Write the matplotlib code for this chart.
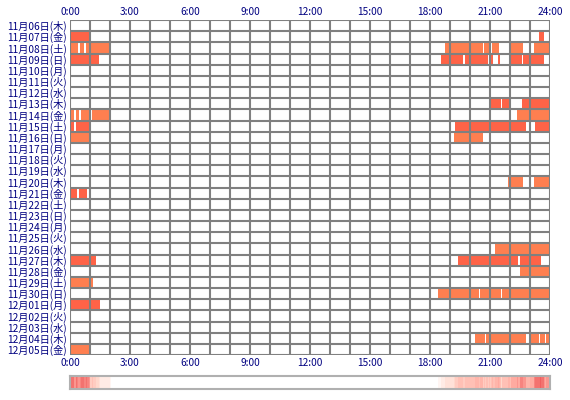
import numpy as np
import matplotlib
matplotlib.use('Agg')
import matplotlib.pyplot as plt
from matplotlib.colors import LinearSegmentedColormap

plt.rcParams['font.family'] = ['Noto Sans CJK JP', 'DejaVu Sans']

days = ['11月06日(木)', '11月07日(金)', '11月08日(土)', '11月09日(日)', '11月10日(月)',
        '11月11日(火)', '11月12日(水)', '11月13日(木)', '11月14日(金)', '11月15日(土)',
        '11月16日(日)', '11月17日(月)', '11月18日(火)', '11月19日(水)', '11月20日(木)',
        '11月21日(金)', '11月22日(土)', '11月23日(日)', '11月24日(月)', '11月25日(火)',
        '11月26日(水)', '11月27日(木)', '11月28日(金)', '11月29日(土)', '11月30日(日)',
        '12月01日(月)', '12月02日(火)', '12月03日(水)', '12月04日(木)', '12月05日(金)']
tick_labels = ['0:00', '3:00', '6:00', '9:00', '12:00', '15:00', '18:00', '21:00', '24:00']

T, C = '#ff6347', '#ff7f50'
# (row, start hour, end hour, colour)
segments = [
    (1, 0.0, 1.0, T), (1, 23.45, 23.7, T),
    (2, 0.0, 0.4, C), (2, 0.5, 0.7, C), (2, 0.8, 2.0, C),
    (2, 18.75, 20.65, C), (2, 20.7, 21.0, C), (2, 21.1, 21.45, C), (2, 22.05, 22.65, C), (2, 23.2, 24.0, C),
    (3, 0.0, 1.45, T), (3, 18.55, 19.65, T), (3, 19.75, 20.9, T), (3, 20.95, 21.15, T),
    (3, 21.4, 21.5, T), (3, 22.05, 22.6, T), (3, 22.65, 23.7, T),
    (7, 21.05, 21.55, T), (7, 21.6, 22.0, T), (7, 22.6, 24.0, T),
    (8, 0.0, 0.2, C), (8, 0.3, 0.45, C), (8, 0.55, 1.0, C), (8, 1.1, 2.05, C), (8, 22.35, 24.0, C),
    (9, 0.0, 0.2, T), (9, 0.3, 1.0, T), (9, 19.25, 22.8, T), (9, 23.25, 24.0, T),
    (10, 0.0, 1.0, C), (10, 19.2, 20.65, C),
    (14, 21.9, 22.65, C), (14, 23.2, 24.0, C),
    (15, 0.0, 0.35, T), (15, 0.45, 0.85, T),
    (20, 21.25, 24.0, C),
    (21, 0.0, 1.3, T), (21, 19.4, 22.4, T), (21, 22.5, 23.55, T),
    (22, 22.5, 24.0, C),
    (23, 0.0, 1.15, C),
    (24, 18.4, 20.45, C), (24, 20.5, 21.55, C), (24, 21.6, 24.0, C),
    (25, 0.0, 1.5, T),
    (28, 20.25, 20.75, C), (28, 20.8, 22.8, C), (28, 23.0, 23.45, C), (28, 23.5, 23.75, C), (28, 23.8, 24.0, C),
    (29, 0.0, 0.95, C),
]

fig = plt.figure(figsize=(5.7, 4.0), dpi=100)
ax = fig.add_axes([70/570, 1-355/400, 480/570, 335/400])
n = len(days)
for r, s, e, col in segments:
    ax.barh(r, e - s, left=s, height=1.0, color=col, zorder=1)
ax.set_xlim(0, 24)
ax.set_ylim(n - 0.5, -0.5)
for h in range(25):
    ax.axvline(h, color='#808080', lw=1.5, zorder=2)
for i in range(n + 1):
    ax.axhline(i - 0.5, color='#808080', lw=1.5, zorder=2)
for sp in ax.spines.values():
    sp.set_visible(False)
ax.set_yticks(range(n))
ax.set_yticklabels(days, fontsize=7.3, color='#000080')
ax.set_xticks(range(0, 25, 3))
ax.set_xticklabels(tick_labels, fontsize=7.3, color='#000080')
ax.tick_params(length=0, pad=2, top=True, labeltop=True)

# activity density strip
mins = np.arange(0, 24, 1/60)
dens = np.zeros_like(mins)
for r, s, e, col in segments:
    dens += (mins >= s) & (mins < e)
cmap = LinearSegmentedColormap.from_list('act', ['#ffffff', '#ffd8cc', '#ffaaa0', '#f06060'])
ax2 = fig.add_axes([70/570, 1-389/400, 480/570, 13/400])
ax2.imshow(dens[None, :], aspect='auto', cmap=cmap, vmin=0, vmax=dens.max(),
           extent=[0, 24, 0, 1], interpolation='nearest')
ax2.set_xticks([]); ax2.set_yticks([])
for sp in ax2.spines.values():
    sp.set_color('#b0b0b0'); sp.set_linewidth(1.5)

fig.savefig('out.png', dpi=100, facecolor='white')
